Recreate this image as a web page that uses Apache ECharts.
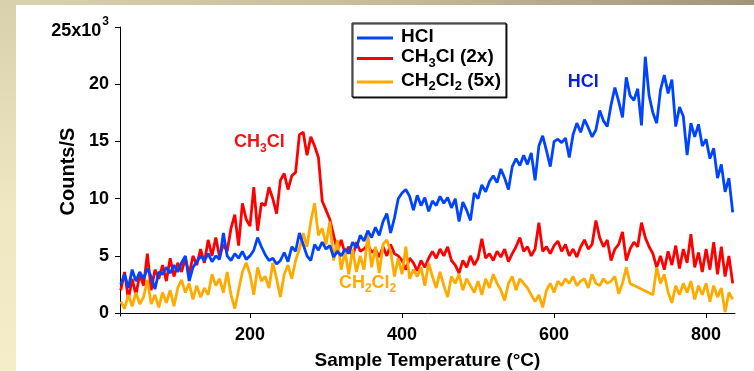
<!DOCTYPE html>
<html>
<head>
<meta charset="utf-8">
<script src="https://cdn.jsdelivr.net/npm/echarts@6/dist/echarts.min.js"></script>
<style>
  html, body { margin: 0; padding: 0; width: 754px; height: 371px; overflow: hidden; background: #fff; }
  #top { position: absolute; left: 0; top: 0; width: 754px; height: 5px; background: linear-gradient(to right, #dbd2b0, #c4b898 55%, #a39479); }
  #left { position: absolute; left: 0; top: 0; width: 16px; height: 371px; background: linear-gradient(to bottom, #d8cfad, #efe6c2 55%, #f5edc9); }
  #chart { position: absolute; left: 0; top: 0; width: 754px; height: 371px; }
</style>
</head>
<body>
<div id="top"></div>
<div id="left"></div>
<div id="chart"></div>
<script>
// sample temperature (°C)
const temps = [
  30, 35, 40, 45, 50, 55, 60, 65, 70, 75,
  80, 85, 90, 95, 100, 105, 110, 115, 120, 125,
  130, 135, 140, 145, 150, 155, 160, 165, 170, 175,
  180, 185, 190, 195, 200, 205, 210, 215, 220, 225,
  230, 235, 240, 245, 250, 255, 260, 265, 270, 275,
  280, 285, 290, 295, 300, 305, 310, 315, 320, 325,
  330, 335, 340, 345, 350, 355, 360, 365, 370, 375,
  380, 385, 390, 395, 400, 405, 410, 415, 420, 425,
  430, 435, 440, 445, 450, 455, 460, 465, 470, 475,
  480, 485, 490, 495, 500, 505, 510, 515, 520, 525,
  530, 535, 540, 545, 550, 555, 560, 565, 570, 575,
  580, 585, 590, 595, 600, 605, 610, 615, 620, 625,
  630, 635, 640, 645, 650, 655, 660, 665, 670, 675,
  680, 685, 690, 695, 700, 705, 710, 715, 720, 725,
  730, 735, 740, 745, 750, 755, 760, 765, 770, 775,
  780, 785, 790, 795, 800, 805, 810, 815, 820, 825,
  830, 835
];

// counts/s in thousands
const hcl = [
  2.5, 3.4, 2.2, 3.8, 2.8, 3.6, 3.0, 3.9, 3.2, 2.1,
  3.6, 3.4, 4.0, 3.5, 4.2, 3.6, 4.4, 5.0, 2.8, 4.0,
  4.5, 5.0, 4.6, 5.2, 4.5, 5.0, 4.7, 7.0, 5.0, 4.6,
  5.2, 4.8, 5.4, 4.7, 5.0, 5.5, 6.6, 5.8, 5.1, 4.6,
  4.8, 4.3, 4.6, 5.3, 4.5, 5.8, 5.4, 7.0, 6.0, 5.0,
  4.6, 6.0, 5.5, 6.2, 5.6, 5.9, 4.9, 5.4, 5.0, 5.6,
  5.2, 6.2, 5.7, 6.8, 6.3, 7.2, 6.6, 7.5, 6.8, 8.0,
  8.7, 7.0, 8.3, 10.0, 10.5, 10.8, 10.2, 9.0, 10.3, 9.4,
  10.1, 8.9, 9.8, 9.4, 10.2, 9.6, 10.1, 9.2, 10.0, 8.0,
  9.7, 9.0, 8.1, 10.5, 10.0, 11.2, 10.6, 11.5, 12.0, 11.4,
  12.6, 11.8, 10.8, 12.8, 13.5, 12.9, 13.8, 13.0, 14.0, 11.6,
  14.6, 15.5, 14.2, 12.8, 15.0, 15.2, 14.9, 15.3, 13.6, 15.6,
  16.6, 15.8, 16.9, 16.2, 15.4, 16.0, 17.7, 16.8, 16.3, 18.2,
  19.7, 18.5, 17.1, 20.6, 19.0, 18.6, 19.6, 16.4, 22.4, 19.0,
  17.5, 16.6, 19.5, 20.8, 19.2, 20.4, 16.3, 18.0, 17.2, 13.8,
  16.6, 15.4, 16.5, 14.6, 15.2, 13.5, 14.4, 11.8, 13.0, 10.6,
  11.8, 8.8
];

const ch3cl = [
  2.0, 3.6, 1.2, 3.0, 1.6, 3.4, 2.4, 5.2, 2.0, 3.8,
  3.0, 4.2, 2.8, 4.8, 3.2, 4.4, 3.6, 4.8, 3.4, 5.0,
  4.2, 5.6, 4.4, 6.4, 5.0, 6.6, 4.9, 6.0, 5.4, 7.4,
  8.6, 5.9, 9.6, 8.2, 7.6, 11.0, 7.2, 9.6, 9.4, 11.0,
  10.0, 8.7, 11.6, 12.2, 10.8, 12.0, 12.3, 15.6, 15.8, 13.8,
  15.4, 14.6, 13.6, 9.8, 9.0, 8.2, 6.8, 5.4, 6.4, 5.2,
  5.8, 4.9, 6.2, 5.4, 5.6, 6.0, 5.3, 5.6, 4.9, 5.8,
  5.0, 6.0, 5.2, 5.0, 4.6, 3.8, 4.8, 4.4, 3.7, 4.6,
  4.0, 4.8, 5.4, 4.8, 5.6, 5.0, 5.8, 4.6, 4.2, 3.5,
  4.6, 4.0, 5.0, 4.2, 4.8, 6.5, 4.8, 5.2, 4.6, 5.4,
  4.9, 5.6, 4.5, 5.2, 5.8, 6.6, 5.4, 5.8, 5.0, 5.6,
  7.9, 5.4, 5.8, 5.2, 5.9, 6.3, 5.4, 6.0, 5.0, 5.6,
  4.9, 5.8, 6.4, 5.6, 6.0, 8.1, 6.6, 5.8, 6.4, 4.6,
  5.6, 6.0, 7.1, 4.6, 5.6, 6.2, 5.8, 7.9, 6.6, 5.8,
  5.2, 4.0, 5.0, 3.8, 5.4, 4.2, 5.9, 3.9, 5.6, 4.4,
  6.9, 4.0, 5.3, 3.6, 5.6, 3.8, 6.2, 3.4, 5.8, 3.2,
  5.0, 2.6
];

// gap around 705-725 is drawn as a straight segment
const ch2cl2 = [
  1.0, 0.4, 1.6, 0.6, 1.8, 0.8, 1.4, 2.9, 0.8, 1.6,
  0.5, 1.8, 0.9, 2.0, 0.6, 2.2, 2.9, 1.8, 2.6, 1.2,
  2.4, 1.4, 2.2, 1.6, 3.4, 2.4, 3.0, 1.8, 3.6, 1.6,
  0.4, 2.0, 3.6, 4.4, 3.4, 1.6, 4.0, 2.8, 3.2, 2.2,
  4.4, 3.0, 1.4, 3.4, 4.2, 3.0, 4.6, 5.6, 7.0, 5.8,
  8.0, 9.6, 6.8, 7.4, 6.0, 8.0, 4.6, 6.4, 3.8, 5.4,
  3.4, 5.6, 3.6, 5.0, 3.8, 6.8, 4.0, 5.8, 3.5, 6.0,
  6.4, 5.4, 3.2, 4.8, 3.4, 5.8, 3.0, 3.8, 3.2, 4.0,
  2.4, 4.4, 3.2, 2.2, 3.6, 2.4, 1.4, 3.2, 2.6, 3.4,
  2.0, 3.0, 2.4, 1.8, 2.8, 1.6, 3.0, 2.2, 3.4, 2.6,
  2.0, 1.1, 2.6, 3.2, 2.0, 3.0, 2.6, 2.2, 1.6, 1.0,
  1.6, 0.5, 2.0, 2.6, 1.8, 2.8, 2.4, 3.0, 2.6, 3.2,
  2.4, 2.8, 3.0, 2.2, 3.4, 2.6, 2.4, 3.0, 2.6, 2.8,
  3.2, 1.7, 2.6, 4.0, 2.6, null, null, null, null, null,
  1.6, 4.0, 2.6, 3.4, 1.8, 0.9, 2.4, 1.6, 2.6, 1.8,
  2.8, 1.2, 2.4, 1.6, 2.6, 1.0, 2.4, 1.4, 2.2, 0.1,
  1.8, 1.2
];

const seriesNames = ['HCl', 'CH3Cl (2x)', 'CH2Cl2 (5x)'];
const legendLabels = ['{m|HCl}', '{m|CH}{sub|3}{m|Cl (2x)}', '{m|CH}{sub|2}{m|Cl}{sub|2}{m| (5x)}'];
const xTicks = [200, 400, 600, 800];
const yTicks = [0, 5, 10, 15, 20, 25];

// in-plot labels, anchored in data units [°C, k counts]
const notes = [
  { t: 179, v: 14.8, text: '{m|CH}{sub|3}{m|Cl}', color: '#f01414' },
  { t: 618, v: 20.1, text: '{m|HCl}', color: '#0a1ee6' },
  { t: 317, v: 2.5, text: '{m|CH}{sub|2}{m|Cl}{sub|2}', color: '#ffaa00' }
];

const FONT = '"Liberation Sans", Arial, sans-serif';
const BLUE = '#0044ff';
const RED = '#ff0000';
const ORANGE = '#ffaa00';

const pairs = (vals) => temps.map((t, i) => [t, vals[i]]);

const chart = echarts.init(document.getElementById('chart'));

const lineSeries = (name, vals, color) => ({
  name,
  type: 'line',
  data: pairs(vals),
  showSymbol: false,
  symbol: 'none',
  connectNulls: true,
  lineStyle: { color, width: 2.8 },
  itemStyle: { color },
  emphasis: { disabled: true }
});

const option = {
  animation: false,
  grid: { left: 120, right: 19, top: 27, bottom: 55, containLabel: false, outerBoundsMode: 'none' },
  legend: {
    data: seriesNames,
    orient: 'vertical',
    left: 352,
    top: 23,
    padding: [4, 5, 4, 5],
    itemGap: 1.5,
    itemWidth: 36,
    itemHeight: 3,
    icon: 'rect',
    backgroundColor: '#fff',
    borderColor: '#000',
    borderWidth: 1,
    borderRadius: 0,
    shadowColor: 'rgba(0,0,0,0.85)',
    shadowBlur: 0,
    shadowOffsetX: 1,
    shadowOffsetY: 1,
    formatter: (name) => legendLabels[seriesNames.indexOf(name)],
    textStyle: {
      padding: [0, 0, 0, 3],
      rich: {
        m: { fontSize: 19, fontWeight: 'bold', fontFamily: FONT, color: '#000', lineHeight: 22, verticalAlign: 'top' },
        sub: { fontSize: 13, fontWeight: 'bold', fontFamily: FONT, color: '#000', lineHeight: 13, padding: [9, 0, 0, 0], verticalAlign: 'top' }
      }
    }
  },
  xAxis: {
    type: 'value',
    min: 29,
    max: 838,
    axisLine: { show: true, lineStyle: { color: '#000', width: 1 } },
    axisTick: { show: true, length: 5, customValues: xTicks, lineStyle: { color: '#000', width: 1 } },
    axisLabel: { customValues: xTicks, color: '#000', fontSize: 18, fontWeight: 'bold', fontFamily: FONT, margin: 10 },
    splitLine: { show: false },
    name: 'Sample Temperature (°C)',
    nameLocation: 'middle',
    nameGap: 35,
    nameMoveOverlap: false,
    nameTextStyle: { color: '#000', fontSize: 19, fontWeight: 'bold', fontFamily: FONT }
  },
  yAxis: {
    type: 'value',
    min: -0.25,
    max: 25,
    axisLine: { show: true, lineStyle: { color: '#000', width: 1 } },
    axisTick: { show: true, length: 5, customValues: yTicks, lineStyle: { color: '#000', width: 1 } },
    axisLabel: {
      customValues: yTicks,
      margin: 11,
      color: '#000',
      fontSize: 18,
      fontWeight: 'bold',
      fontFamily: FONT,
      formatter: (v) => (v === 25 ? '{b|25x10}{sup|3}' : String(v)),
      rich: {
        b: { fontSize: 18, fontWeight: 'bold', fontFamily: FONT, color: '#000', lineHeight: 18, padding: [8, 0, 0, 0] },
        sup: { fontSize: 12, fontWeight: 'bold', fontFamily: FONT, color: '#000', lineHeight: 12, padding: [0, 0, 10, 1] }
      }
    },
    splitLine: { show: false },
    name: 'Counts/S',
    nameLocation: 'middle',
    nameGap: 42,
    nameRotate: 90,
    nameMoveOverlap: false,
    nameTextStyle: { color: '#000', fontSize: 20, fontWeight: 'bold', fontFamily: FONT }
  },
  series: [
    lineSeries('CH3Cl (2x)', ch3cl, RED),
    lineSeries('CH2Cl2 (5x)', ch2cl2, ORANGE),
    lineSeries('HCl', hcl, BLUE)
  ]
};

chart.setOption(option);

chart.setOption({
  graphic: notes.map((n) => {
    const [x, y] = chart.convertToPixel({ gridIndex: 0 }, [n.t, n.v]);
    return {
      type: 'text',
      x,
      y,
      z: 100,
      style: {
        text: n.text,
        textAlign: 'left',
        textVerticalAlign: 'middle',
        fill: n.color,
        rich: {
          m: { fontSize: 18, fontWeight: 'bold', fontFamily: FONT, fill: n.color, lineHeight: 21, verticalAlign: 'top' },
          sub: { fontSize: 12, fontWeight: 'bold', fontFamily: FONT, fill: n.color, lineHeight: 12, padding: [9, 0, 0, 0], verticalAlign: 'top' }
        }
      }
    };
  })
});
</script>
</body>
</html>
